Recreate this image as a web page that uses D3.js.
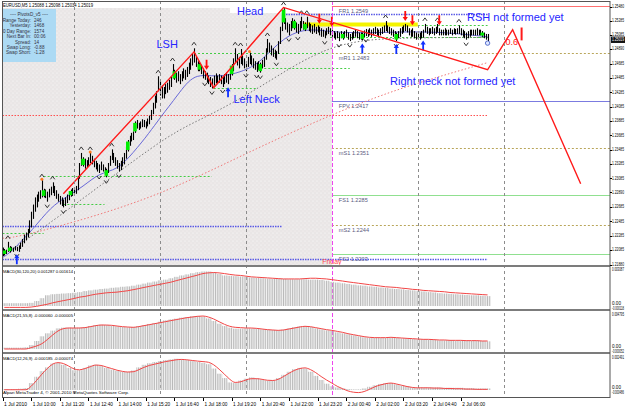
<!DOCTYPE html>
<html>
<head>
<meta charset="utf-8">
<script src="https://cdn.jsdelivr.net/npm/d3@7"></script>
<style>
  html, body { margin: 0; padding: 0; background: #fff; }
  svg { display: block; font-family: "Liberation Sans", Arial, sans-serif; }
</style>
</head>
<body>
<svg id="chart" width="625" height="409"></svg>
<script>
// ---- price bars, EURUSD M5, in pips above 1.2000 ----
var barHigh = [
  212,210,209,220,214,213,212,214,213,215,219,224,230,233,238,250,262,272,282,286,
  290,292,306,294,293,290,294,297,303,298,292,287,284,282,279,282,286,289,293,295,
  296,298,312,330,344,338,336,334,338,344,340,336,333,330,328,332,328,324,322,330,
  340,349,344,338,334,330,333,338,344,352,362,368,372,374,388,390,386,388,391,390,
  388,392,396,404,414,424,430,451,444,438,436,440,442,446,450,468,460,456,458,454,
  458,462,460,464,470,476,482,490,478,472,470,466,462,458,456,452,450,448,452,455,
  452,454,452,450,454,456,454,460,468,476,490,482,478,489,480,476,472,478,484,480,
  476,472,470,472,470,474,478,490,503,498,494,490,488,486,500,520,536,546,532,526,
  524,528,532,530,526,524,528,534,528,526,534,526,524,522,524,520,522,520,518,516,
  514,518,520,518,516,514,512,514,512,514,512,514,516,512,510,512,514,516,514,512,
  512,512,515,517,516,518,516,518,520,518,516,518,520,522,528,522,520,518,516,514,
  512,514,518,520,522,524,522,518,516,518,514,512,514,512,514,516,524,520,518,518,
  520,518,520,524,518,516,516,518,516,516,518,516,518,517,518,522,518,516,514,512,
  514,516,516,516,516,518,516,516,514,512,510,510
];
var barLow = [
  200,201,203,206,205,207,206,208,207,206,210,213,218,222,226,232,240,252,262,268,
  276,280,282,282,281,276,282,285,288,284,280,276,272,270,268,270,274,278,283,284,
  286,287,292,308,326,325,322,324,326,330,328,324,321,318,316,320,318,314,310,316,
  326,334,330,326,322,318,320,325,328,336,346,354,360,362,372,378,376,378,380,380,
  378,381,384,390,398,406,414,430,424,420,420,426,428,432,436,448,446,442,444,440,
  444,448,446,450,454,460,466,470,464,458,458,454,448,446,442,440,436,434,438,441,
  440,442,440,436,440,442,440,446,452,458,470,466,462,468,466,462,458,464,468,466,
  462,460,457,460,456,462,464,474,484,484,480,478,476,474,482,496,514,524,516,512,
  508,514,518,516,512,510,514,518,516,514,518,514,512,510,512,510,512,508,506,506,
  504,508,510,508,506,504,502,504,500,504,502,504,506,502,500,502,504,506,504,502,
  502,501,505,507,506,508,506,508,510,508,506,508,510,512,514,512,510,508,506,504,
  500,504,506,510,512,514,512,508,506,506,504,502,504,502,504,505,512,510,508,510,
  510,508,510,512,508,508,508,508,508,508,510,508,510,509,510,510,508,506,504,502,
  504,506,508,508,508,508,508,508,506,504,502,500
];

// highlighted bars, fractals and signal arrows (bar indices)
var greenBars = [1, 4, 23, 38, 45, 58, 70, 74, 96, 110, 128, 144, 157, 163, 169, 190, 201, 220, 268];
var upFractals = [3, 22, 28, 44, 49, 61, 87, 95, 107, 130, 133, 148, 157, 167, 170, 214, 236, 243, 255];
var downFractals = [8, 25, 34, 54, 58, 65, 113, 117, 123, 136, 142, 144, 153, 160, 165, 180, 188, 194, 203, 220, 259];
var sellArrows = [114, 177, 184, 225, 229, 244];
var buyArrows = [8, 126, 201, 220, 235];
var orangeDots = [22, 49, 138];

// moving averages (bar index, pips)
var blueMaBars = [0, 4, 17, 27, 36, 45, 54, 64, 73, 82, 88, 98, 107, 120, 134, 144, 157, 170, 183, 200, 222, 245, 271];
var blueMaPips = [198, 204, 237, 269, 283, 297, 316, 320, 344, 372, 393, 425, 456, 449, 457, 470, 506, 518, 513, 511, 513, 513, 506];
var grayMaBars = [0, 10, 54, 94, 114, 144, 183, 222, 271];
var grayMaPips = [202, 216, 297, 372, 394, 435, 499, 505, 505];
var pinkMaBars = [0, 10, 54, 94, 139, 183, 222, 271];
var pinkMaPips = [225, 227, 257, 292, 347, 397, 435, 470];

// head & shoulders zigzag
var zigzagBars = [34, 107, 118, 157, 271, 285, 323];
var zigzagPrices = [1.2287, 1.2485, 1.2435, 1.2547, 1.2460, 1.2516, 1.2301];

// pivots of the day
var pivotNames = ['FR1', 'mR1', 'FPV', 'mS1', 'FS1', 'mS2', 'FS2'];
var pivotPrices = [1.2549, 1.2483, 1.2417, 1.2351, 1.2285, 1.2244, 1.2203];

// other horizontal levels
var levelPrices = [1.2397, 1.2242, 1.2196, 1.2538, 1.2232, 1.2312, 1.2273, 1.2484, 1.2435, 1.2463, 1.2506, 1.2523, 1.2524];
var levelFrom = [0, 0, 0, 157, 0, 23, 34, 107, 118, 144, 183, 232, 168];
var levelTo = [271, 156, 271, 271, 23, 117, 57, 183, 142, 194, 271, 271, 232];
var levelKind = ['red', 'blue', 'blue', 'blue', 'green', 'green', 'green', 'green', 'green', 'green', 'green', 'green', 'yellow'];

// MACD values in points (0.00001), one value every 3 bars
var macd1Hist = [
  24,24,24,24,24,27,43,67,92,101,104,107,110,113,119,128,134,140,146,149,
  156,159,165,168,174,183,192,201,210,220,226,238,250,262,271,281,290,296,296,287,
  275,262,259,256,253,250,244,241,238,235,232,232,232,229,229,229,229,226,226,223,
  217,207,201,195,189,183,177,174,168,165,159,156,149,146,143,137,134,128,125,119,
  116,110,107,104,101,98,95,92,92,88,85
];
var macd1Signal = [
  -12,-12,-12,-12,-12,-9,-3,6,15,27,37,46,55,64,76,82,92,101,107,113,
  116,119,125,131,140,149,159,168,177,186,195,204,217,229,241,253,265,278,284,287,
  284,278,271,265,262,256,250,247,244,241,238,235,232,232,232,232,235,238,238,235,
  232,226,220,214,207,201,195,189,183,177,171,165,162,159,153,149,143,140,134,131,
  128,125,122,116,113,110,107,104,101,98,95
];
var macd2Hist = [
  19,19,19,19,24,56,113,179,221,259,291,301,301,296,301,310,324,338,343,338,
  329,320,310,306,310,324,338,353,367,385,404,418,428,442,451,461,465,456,432,395,
  357,324,301,287,287,291,291,287,277,273,268,263,273,291,306,320,320,310,291,277,
  263,254,235,221,207,193,179,165,160,155,155,155,160,155,150,146,141,136,136,132,
  127,122,122,122,118,118,118,113,113,113,108
];
var macd2Signal = [
  0,0,0,0,0,19,42,75,132,197,254,287,296,296,296,301,315,329,338,338,
  334,324,315,310,306,315,329,343,357,371,385,400,414,428,442,451,461,465,451,423,
  385,348,320,306,301,296,296,291,282,273,268,263,268,282,296,310,320,315,301,287,
  273,263,249,235,216,202,188,174,165,160,160,160,165,160,155,150,146,141,136,136,
  132,127,127,122,122,122,118,118,118,113,113
];
var macd3Hist = [
  7,7,7,10,15,54,103,147,176,206,211,196,172,154,154,172,191,196,186,172,
  159,149,142,140,152,176,196,208,218,225,233,238,243,240,233,225,218,211,201,167,
  127,93,59,54,74,88,98,91,81,74,74,93,118,142,162,172,167,142,110,78,
  49,29,20,12,7,5,5,12,25,37,47,54,54,44,34,27,20,17,20,20,
  20,20,17,17,17,17,15,15,12,12,12
];
var macd3Signal = [
  2,2,2,2,2,29,74,123,167,201,213,206,186,164,157,167,181,194,191,179,
  167,154,145,140,142,157,176,191,201,211,221,228,235,238,235,230,225,221,216,196,
  162,123,83,59,64,78,88,88,83,76,74,83,105,130,152,167,172,159,135,105,
  78,54,29,10,-7,-17,-20,-12,5,25,39,49,54,47,37,27,20,17,17,17,
  15,15,12,12,10,10,7,7,5,5,5
];
var macdLabels = ['MACD(30,120,20) 0.001287 0.001614', 'MACD(21,55,8) -0.000060 -0.000005', 'MACD(12,26,9) -0.000185 -0.000074'];
var macdTopLabels = ['0.003087', '0.004795', '0.002491'];
var macdBottomLabels = ['-0.000118', '-0.000052', '-0.000486'];

// axes
var priceTickLabels = ['1.25480','1.25285','1.25085','1.24890','1.24685','1.24485','1.24285','1.24085','1.23885','1.23685',
  '1.23485','1.23285','1.23085','1.22890','1.22685','1.22485','1.22285','1.22085','1.21880'];
var timeLabelBars = [0, 16, 32, 48, 64, 80, 96, 112, 128, 144, 160, 176, 192, 208, 224, 240, 256];
var timeLabels = ['1 Jul 2010','1 Jul 10:00','1 Jul 11:20','1 Jul 12:40','1 Jul 14:00','1 Jul 15:20','1 Jul 16:40','1 Jul 18:00',
  '1 Jul 19:20','1 Jul 20:40','1 Jul 22:00','1 Jul 23:20','2 Jul 00:40','2 Jul 02:00','2 Jul 03:20','2 Jul 04:40','2 Jul 06:00'];
var gridBars = [40, 88, 136, 232, 280];
var daySeparatorBar = 184;

var infoLabels = ['Range Today:', 'Yesterday:', '30 Day Range:', 'Next Bar In:', 'Spread:', 'Swap Long:', 'Swap Short:'];
var infoValues = ['246', '1468', '1574', '00:06', '14', '-0.88', '-1.28'];

// ---------------------------------------------------------------
var svg = d3.select('#chart');
var AXIS_X = 610;
var STEP = 3;
var LABEL_W = 12;

var x = d3.scaleLinear().domain([0, 340]).range([2.5, 611.1]);
var y = d3.scaleLinear().domain([1.2203, 1.2549]).range([254, 6]);
var pip = function(v) { return 1.2 + v / 10000; };
var barW = x(1) - x(0);

var MAIN = { top: 1, bottom: 265 };
var panels = [
  { top: 267, bottom: 309, domain: [0, 308.7], range: [306, 270], hist: macd1Hist, signal: macd1Signal },
  { top: 311, bottom: 352, domain: [0, 479.5], range: [349, 315], hist: macd2Hist, signal: macd2Signal },
  { top: 354, bottom: 397, domain: [0, 249.1], range: [390, 358], hist: macd3Hist, signal: macd3Signal }
];

// squeeze a small axis label horizontally so that it fits the strip right of the axis
function fitLabel(parent, text, tx, ty, maxW, color) {
  var t = parent.append('text')
    .attr('font-size', 4.6).attr('dominant-baseline', 'middle')
    .attr('fill', color || '#000').text(text);
  var w = t.node().getComputedTextLength();
  var s = Math.min(1, maxW / w);
  t.attr('transform', 'translate(' + tx + ',' + ty + ') scale(' + s + ',1)');
  return t;
}

var defs = svg.append('defs');
var shade = defs.append('pattern').attr('id', 'shade')
  .attr('patternUnits', 'userSpaceOnUse').attr('width', 4).attr('height', 4);
shade.append('rect').attr('width', 4).attr('height', 4).attr('fill', '#e9e6e6');
shade.append('circle').attr('cx', 1).attr('cy', 1).attr('r', 0.6).attr('fill', '#fff');
shade.append('circle').attr('cx', 3).attr('cy', 3).attr('r', 0.6).attr('fill', '#fbf4f4');

var hist = defs.append('pattern').attr('id', 'hist')
  .attr('patternUnits', 'userSpaceOnUse').attr('width', barW).attr('height', 8)
  .attr('patternTransform', 'translate(2,0)');
hist.append('rect').attr('width', 1.05).attr('height', 8).attr('fill', '#b9b9b9');

defs.append('clipPath').attr('id', 'clipMain').append('rect')
  .attr('x', 2).attr('y', MAIN.top).attr('width', AXIS_X - 2).attr('height', MAIN.bottom - MAIN.top);
panels.forEach(function(p, k) {
  defs.append('clipPath').attr('id', 'clipP' + k).append('rect')
    .attr('x', 2).attr('y', p.top).attr('width', AXIS_X - 2).attr('height', p.bottom - p.top);
});

svg.append('rect').attr('width', 625).attr('height', 409).attr('fill', '#fff');

// ---- main panel ----
var main = svg.append('g').attr('clip-path', 'url(#clipMain)');

// previous session shading
main.append('rect').attr('x', 2).attr('y', 8).attr('width', 228).attr('height', MAIN.bottom - 8).attr('fill', 'url(#shade)');
main.append('rect').attr('x', 230).attr('y', 13).attr('width', x(daySeparatorBar) - 230).attr('height', MAIN.bottom - 13).attr('fill', 'url(#shade)');

// vertical grid through all panels
svg.append('g').selectAll('line').data(gridBars).join('line')
  .attr('x1', function(d) { return Math.round(x(d)) + 0.5; })
  .attr('x2', function(d) { return Math.round(x(d)) + 0.5; })
  .attr('y1', MAIN.top).attr('y2', 397)
  .attr('stroke', '#8c8c8c').attr('stroke-dasharray', '3,3');
svg.append('line')
  .attr('x1', Math.round(x(daySeparatorBar)) + 0.5).attr('x2', Math.round(x(daySeparatorBar)) + 0.5)
  .attr('y1', MAIN.top).attr('y2', 397)
  .attr('stroke', '#ee44ee').attr('stroke-dasharray', '4,2');

// pivot lines
function pivotStyle(name) {
  if (name.charAt(0) === 'm') return { stroke: '#b9a65a', dash: '2,2' };
  if (name === 'FPV') return { stroke: '#7b7be0', dash: null };
  if (name.indexOf('FR') === 0) return { stroke: '#ff7070', dash: null };
  return { stroke: '#90e090', dash: null };
}
pivotNames.forEach(function(name, k) {
  var st = pivotStyle(name);
  var py = Math.round(y(pivotPrices[k])) + 0.5;
  main.append('line').attr('x1', x(daySeparatorBar)).attr('x2', AXIS_X)
    .attr('y1', py).attr('y2', py).attr('stroke', st.stroke)
    .attr('stroke-width', name.charAt(0) === 'm' ? 1 : 1.2)
    .attr('stroke-dasharray', st.dash);
  main.append('text').attr('x', x(daySeparatorBar) + 7).attr('y', py + 6.5)
    .attr('font-size', 5.6).attr('fill', '#5a5a80')
    .text(name + '  ' + pivotPrices[k].toFixed(4));
});

// horizontal levels
var levelStyle = {
  red: { stroke: '#ff5050', dash: '1.5,1.5', w: 1 },
  blue: { stroke: '#5a5ae6', dash: '1.5,1', w: 1.5 },
  green: { stroke: '#44cc44', dash: '2,2', w: 1 },
  yellow: { stroke: '#f4f400', dash: null, w: 4 }
};
levelPrices.forEach(function(p, k) {
  var st = levelStyle[levelKind[k]];
  main.append('line')
    .attr('x1', x(levelFrom[k])).attr('x2', x(levelTo[k]))
    .attr('y1', Math.round(y(p)) + 0.5).attr('y2', Math.round(y(p)) + 0.5)
    .attr('stroke', st.stroke).attr('stroke-width', st.w).attr('stroke-dasharray', st.dash);
});

// moving averages
function maLine(bars, pips, color, dash, w) {
  var pts = bars.map(function(b, k) { return [x(b), y(pip(pips[k]))]; });
  main.append('path').attr('d', d3.line().curve(d3.curveBasis)(pts))
    .attr('fill', 'none').attr('stroke', color).attr('stroke-width', w).attr('stroke-dasharray', dash);
}
maLine(pinkMaBars, pinkMaPips, '#f07878', '1.5,2', 1);
maLine(grayMaBars, grayMaPips, '#777', '1.5,2', 1);
maLine(blueMaBars, blueMaPips, '#6868d8', null, 1);

// OHLC bars
main.append('g').selectAll('line').data(barHigh).join('line')
  .attr('x1', function(d, i) { return Math.round(x(i)) + 0.5; })
  .attr('x2', function(d, i) { return Math.round(x(i)) + 0.5; })
  .attr('y1', function(d) { return y(pip(d)); })
  .attr('y2', function(d, i) { return y(pip(barLow[i])); })
  .attr('stroke', '#000').attr('stroke-width', 1.1);

// highlighted bars
main.append('g').selectAll('rect').data(greenBars).join('rect')
  .attr('x', function(i) { return x(i) - 1.8; })
  .attr('width', 3.6)
  .attr('y', function(i) { return y(pip(barHigh[i])) + 1.5; })
  .attr('height', function(i) { return Math.max(3, y(pip(barLow[i])) - y(pip(barHigh[i])) - 3); })
  .attr('fill', '#00ee00');

// fractals
main.append('g').selectAll('path').data(upFractals).join('path')
  .attr('transform', function(i) { return 'translate(' + x(i) + ',' + (y(pip(barHigh[i])) - 4.5) + ')'; })
  .attr('d', 'M-2.2,1.5L0,-1.5L2.2,1.5').attr('fill', 'none').attr('stroke', '#222').attr('stroke-width', 0.9);
main.append('g').selectAll('path').data(downFractals).join('path')
  .attr('transform', function(i) { return 'translate(' + x(i) + ',' + (y(pip(barLow[i])) + 4.5) + ')'; })
  .attr('d', 'M-2.2,-1.5L0,1.5L2.2,-1.5').attr('fill', 'none').attr('stroke', '#222').attr('stroke-width', 0.9);

main.append('g').selectAll('circle').data(orangeDots).join('circle')
  .attr('cx', function(i) { return x(i); })
  .attr('cy', function(i) { return y(pip(barHigh[i])) - 1; })
  .attr('r', 1.5).attr('fill', '#ff7a20');

// signal arrows
var arrowDown = 'M-0.9,-10L0.9,-10L0.9,-4L2.6,-4L0,0L-2.6,-4L-0.9,-4Z';
var arrowUp = 'M-0.9,10L0.9,10L0.9,4L2.6,4L0,0L-2.6,4L-0.9,4Z';
main.append('g').selectAll('path').data(sellArrows).join('path')
  .attr('transform', function(i) { return 'translate(' + x(i) + ',' + (y(pip(barHigh[i])) - 3) + ')'; })
  .attr('d', arrowDown).attr('fill', '#ff1010');
main.append('g').selectAll('path').data(buyArrows).join('path')
  .attr('transform', function(i) { return 'translate(' + x(i) + ',' + (y(pip(barLow[i])) + 3) + ')'; })
  .attr('d', arrowUp).attr('fill', '#1030ff');

// last price marker
var last = barHigh.length - 1;
main.append('circle').attr('cx', x(last)).attr('cy', y(pip(barLow[last])) + 2)
  .attr('r', 2.2).attr('fill', '#dde6ff').attr('stroke', '#4a63c8').attr('stroke-width', 0.9);

// zigzag pattern
var zz = zigzagBars.map(function(b, k) { return [x(b), y(zigzagPrices[k])]; });
main.append('path').attr('d', d3.line()(zz))
  .attr('fill', 'none').attr('stroke', '#ff1a1a').attr('stroke-width', 1.4);
main.append('line').attr('x1', x(290)).attr('x2', x(290))
  .attr('y1', y(1.2519)).attr('y2', y(1.2501)).attr('stroke', '#ff1a1a').attr('stroke-width', 2);
main.append('text').attr('x', x(281)).attr('y', y(1.2495)).attr('font-size', 9).attr('fill', '#ff2020').text('0.6');

// annotations
var notes = [
  { t: 'Head', b: 131, p: 1.2537 },
  { t: 'LSH', b: 86, p: 1.2490 },
  { t: 'Left Neck', b: 129, p: 1.2414 },
  { t: 'RSH not formed yet', b: 259.5, p: 1.2528 },
  { t: 'Right neck not formed yet', b: 216.5, p: 1.2439 }
];
main.append('g').selectAll('text').data(notes).join('text')
  .attr('x', function(d) { return x(d.b); }).attr('y', function(d) { return y(d.p); })
  .attr('font-size', 11).attr('fill', '#2525ff').text(function(d) { return d.t; });
main.append('text').attr('x', x(daySeparatorBar)).attr('y', y(1.2189))
  .attr('text-anchor', 'middle').attr('font-size', 7).attr('fill', '#ff4a4a').text('Friday');

// info box and title
main.append('rect').attr('x', 2).attr('y', 9).attr('width', 54).attr('height', 53).attr('fill', '#acdaf4');
main.append('text').attr('x', 29).attr('y', 16).attr('text-anchor', 'middle')
  .attr('font-size', 4.6).attr('fill', '#334').text('---- PivotsD_v5 ----');
infoLabels.forEach(function(l, k) {
  main.append('text').attr('x', 31).attr('y', 22 + k * 5.4).attr('text-anchor', 'end')
    .attr('font-size', 4.6).attr('fill', '#334').text(l);
  main.append('text').attr('x', 34).attr('y', 22 + k * 5.4)
    .attr('font-size', 4.6).attr('fill', '#334').text(infoValues[k]);
});
svg.append('text').attr('x', 3).attr('y', 7).attr('font-size', 4.6).attr('fill', '#000')
  .attr('textLength', 90).attr('lengthAdjust', 'spacingAndGlyphs')
  .text('EURUSD,M5 1.25088 1.25098 1.25034 1.25019');

// ---- MACD panels ----
panels.forEach(function(p, k) {
  var ys = d3.scaleLinear().domain(p.domain).range(p.range);
  var g = svg.append('g').attr('clip-path', 'url(#clipP' + k + ')');
  g.selectAll('rect').data(p.hist).join('rect')
    .attr('x', function(d, s) { return x(s * STEP) - 0.5; })
    .attr('width', x(STEP) - x(0))
    .attr('y', function(d) { return Math.min(ys(d), ys(0)); })
    .attr('height', function(d) { return Math.abs(ys(d) - ys(0)); })
    .attr('fill', 'url(#hist)');
  var line = d3.line()
    .x(function(d, s) { return x(s * STEP + 1); })
    .y(function(d) { return ys(d); })
    .curve(d3.curveMonotoneX);
  g.append('path').attr('d', line(p.signal))
    .attr('fill', 'none').attr('stroke', '#f24646').attr('stroke-width', 1);
  g.append('text').attr('x', 3).attr('y', p.top + 6).attr('font-size', 4.4).attr('fill', '#000')
    .attr('textLength', 70).attr('lengthAdjust', 'spacingAndGlyphs').text(macdLabels[k]);

  var side = svg.append('g');
  fitLabel(side, macdTopLabels[k], AXIS_X + 2, ys(p.domain[1]), LABEL_W);
  fitLabel(side, '0.00', AXIS_X + 2, ys(0) - 2.5, LABEL_W);
  fitLabel(side, macdBottomLabels[k], AXIS_X + 2, ys(0) + 2.5, LABEL_W);
});

// panel separators and frame
[MAIN.bottom, panels[0].bottom, panels[1].bottom].forEach(function(yy) {
  svg.append('rect').attr('x', 2).attr('y', yy).attr('width', AXIS_X - 2).attr('height', 2).attr('fill', '#7c7c7c');
});
svg.append('rect').attr('x', 2.5).attr('y', MAIN.top + 0.5).attr('width', AXIS_X - 2.5).attr('height', 397 - MAIN.top)
  .attr('fill', 'none').attr('stroke', '#555').attr('stroke-width', 1);

// price axis
var prices = priceTickLabels.map(Number);
svg.append('g').selectAll('line').data(prices).join('line')
  .attr('x1', AXIS_X).attr('x2', AXIS_X + 2)
  .attr('y1', function(d) { return Math.round(y(d)) + 0.5; })
  .attr('y2', function(d) { return Math.round(y(d)) + 0.5; })
  .attr('stroke', '#000');
var priceAxis = svg.append('g');
priceTickLabels.forEach(function(l) {
  fitLabel(priceAxis, l, AXIS_X + 2, y(Number(l)), LABEL_W);
});
var cur = 1.25019;
svg.append('rect').attr('x', AXIS_X + 1).attr('y', y(cur) - 3.2).attr('width', 14).attr('height', 6.4).attr('fill', '#111');
fitLabel(svg, cur.toFixed(5), AXIS_X + 2, y(cur), LABEL_W, '#fff');

// time axis
svg.append('g').selectAll('line').data(timeLabelBars).join('line')
  .attr('x1', function(d) { return Math.round(x(d)) + 0.5; })
  .attr('x2', function(d) { return Math.round(x(d)) + 0.5; })
  .attr('y1', 398).attr('y2', 401).attr('stroke', '#000');
svg.append('g').selectAll('text').data(timeLabels).join('text')
  .attr('x', function(d, k) { return x(timeLabelBars[k]) + 1.5; })
  .attr('y', 405.5).attr('font-size', 4.8).attr('fill', '#000')
  .attr('textLength', 23).attr('lengthAdjust', 'spacingAndGlyphs')
  .text(function(d) { return d; });

svg.append('text').attr('x', 3).attr('y', 394).attr('font-size', 4.4).attr('fill', '#000')
  .attr('textLength', 126).attr('lengthAdjust', 'spacingAndGlyphs')
  .text('Alpari MetaTrader 4, \u00a9 2001-2010 MetaQuotes Software Corp.');
</script>
</body>
</html>
